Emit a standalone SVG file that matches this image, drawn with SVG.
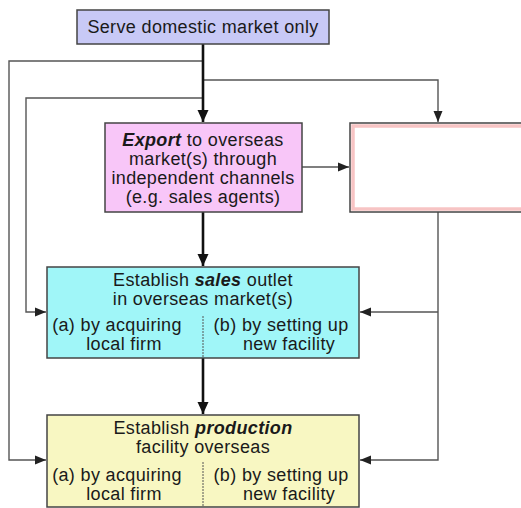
<svg xmlns="http://www.w3.org/2000/svg" width="521" height="508" viewBox="0 0 521 508">
  <style>
    text { font-family: "Liberation Sans", Arial, sans-serif; font-size: 18px; fill: #1a1a1a; letter-spacing: 0.35px; }
    .c { text-anchor: middle; }
    .bi { font-weight: bold; font-style: italic; }
    .box { stroke: #444; stroke-width: 1.5; }
    .thin { fill: none; stroke: #555; stroke-width: 1.4; }
    .thick { fill: none; stroke: #111; stroke-width: 2.6; }
    .div { stroke: #555; stroke-width: 1; stroke-dasharray: 2 1; }
  </style>
  <defs>
    <marker id="ah" markerUnits="userSpaceOnUse" markerWidth="12" markerHeight="10" refX="11" refY="5" orient="auto">
      <path d="M0,0.5 L11,5 L0,9.5 z" fill="#222"/>
    </marker>
    <marker id="ahb" markerUnits="userSpaceOnUse" markerWidth="13" markerHeight="12" refX="12" refY="6" orient="auto">
      <path d="M0,0.5 L12,6 L0,11.5 z" fill="#111"/>
    </marker>
  </defs>

  <g id="connectors">
    <path class="thin" d="M203,61 H9 V460 H46" marker-end="url(#ah)"/>
    <path class="thin" d="M203,98 H26 V312 H46" marker-end="url(#ah)"/>
    <path class="thin" d="M203,80 H438 V122" marker-end="url(#ah)"/>
    <path class="thin" d="M302,167 H349" marker-end="url(#ah)"/>
    <path class="thin" d="M438,212 V460 H360" marker-end="url(#ah)"/>
    <path class="thin" d="M438,312 H360" marker-end="url(#ah)"/>
    <path class="thick" d="M203,44 V122" marker-end="url(#ahb)"/>
    <path class="thick" d="M203,212 V266" marker-end="url(#ahb)"/>
    <path class="thick" d="M203,358 V414" marker-end="url(#ahb)"/>
  </g>

  <g id="domestic">
    <rect class="box" x="77" y="10" width="252" height="34" fill="#c8c9f6"/>
    <text class="c" x="203" y="33">Serve domestic market only</text>
  </g>

  <g id="export">
    <rect class="box" x="105" y="123" width="197" height="89" fill="#f8c6f8"/>
    <text class="c" x="203" y="146"><tspan class="bi">Export</tspan> to overseas</text>
    <text class="c" x="203" y="165">market(s) through</text>
    <text class="c" x="203" y="184">independent channels</text>
    <text class="c" x="203" y="203">(e.g. sales agents)</text>
  </g>

  <g id="blank">
    <rect x="350" y="123" width="180" height="89" fill="#fff" stroke="#444" stroke-width="1.5"/>
    <rect x="353" y="126" width="180" height="83" fill="none" stroke="#f7c4c4" stroke-width="3.5"/>
  </g>

  <g id="sales">
    <rect class="box" x="47" y="267" width="312" height="91" fill="#a0f6f8"/>
    <text class="c" x="203" y="286">Establish <tspan class="bi">sales</tspan> outlet</text>
    <text class="c" x="203" y="305">in overseas market(s)</text>
    <line class="div" x1="203" y1="316" x2="203" y2="358"/>
    <text class="c" x="117" y="331">(a) by acquiring</text>
    <text class="c" x="124" y="350">local firm</text>
    <text class="c" x="281" y="331">(b) by setting up</text>
    <text class="c" x="289" y="350">new facility</text>
  </g>

  <g id="production">
    <rect class="box" x="47" y="415" width="312" height="92" fill="#f8f7c2"/>
    <text class="c" x="203" y="434">Establish <tspan class="bi">production</tspan></text>
    <text class="c" x="203" y="453">facility overseas</text>
    <line class="div" x1="203" y1="462" x2="203" y2="507"/>
    <text class="c" x="117" y="481">(a) by acquiring</text>
    <text class="c" x="124" y="500">local firm</text>
    <text class="c" x="281" y="481">(b) by setting up</text>
    <text class="c" x="289" y="500">new facility</text>
  </g>
</svg>
